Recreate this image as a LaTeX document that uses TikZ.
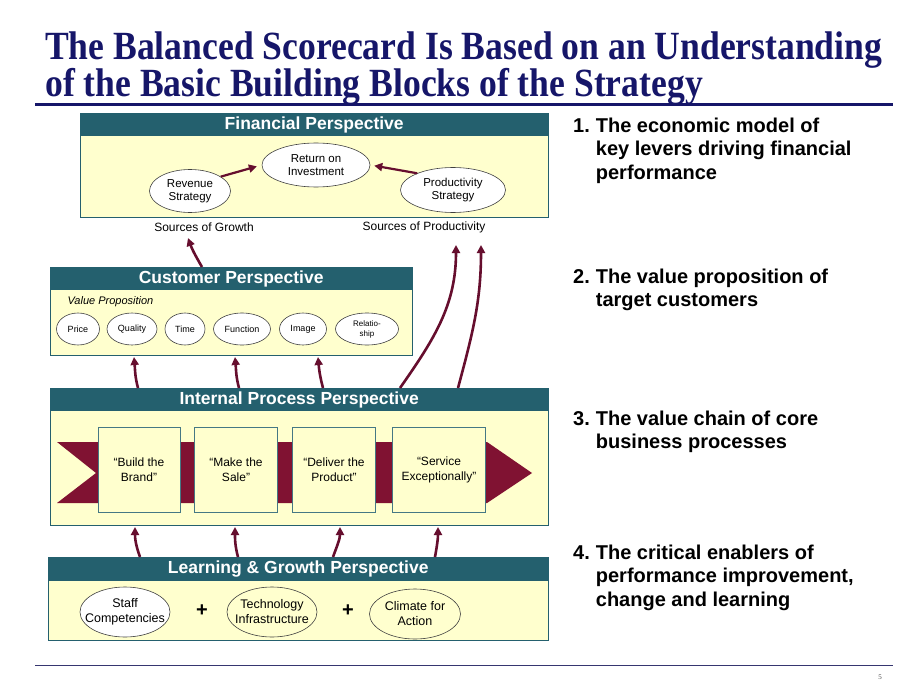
\documentclass[tikz,border=0pt]{standalone}
\usepackage{graphicx}
\usepackage{fontspec}
\setmainfont{Liberation Sans}
\newfontfamily\titlefont{Liberation Serif}
\usetikzlibrary{arrows.meta,shapes.geometric,positioning}

\definecolor{navy}{RGB}{22,22,105}
\definecolor{tealhead}{RGB}{36,96,110}
\definecolor{paleyel}{RGB}{255,255,206}
\definecolor{maroon}{RGB}{102,14,46}
\definecolor{chevron}{RGB}{128,18,50}

\tikzset{
  perbody/.style={draw=tealhead, line width=1.2pt, fill=paleyel, anchor=north west, inner sep=0pt},
  perhead/.style={fill=tealhead, text=white, anchor=north west, inner sep=0pt, minimum height=23pt,
    font=\bfseries\fontsize{17.5}{17.5}\selectfont},
  oval/.style={ellipse, draw=black!75, fill=white, line width=0.6pt, align=center, inner sep=-10pt,
    font=\fontsize{11.5}{13}\selectfont},
  stepbox/.style={draw=tealhead!85, fill=paleyel, line width=1pt, minimum height=85pt, align=center,
    font=\fontsize{12}{15}\selectfont},
  flow/.style={-{Triangle[length=8pt,width=8pt]}, draw=maroon, line width=2.6pt},
  srclabel/.style={font=\fontsize{12}{12}\selectfont},
  point/.style={font=\bfseries\fontsize{20}{23.5}\selectfont, anchor=north west, inner sep=0pt},
  titleline/.style={anchor=base west, inner sep=0pt, text=navy, font=\titlefont\bfseries\fontsize{40}{40}\selectfont}
}

\begin{document}
\begin{tikzpicture}[x=1pt, y=-1pt]
  \useasboundingbox[fill=white] (0,0) rectangle (920,690);

  % title
  \node[titleline] (title1) at (45,60) {\scalebox{0.89}[1]{The Balanced Scorecard Is Based on an Understanding}};
  \node[titleline] (title2) at (45,97) {\scalebox{0.89}[1]{of the Basic Building Blocks of the Strategy}};
  \draw[navy, line width=3pt] (35,105) -- (893,105);

  % financial perspective
  \node[perbody, minimum width=468pt, minimum height=104pt] (finbox) at (80,113) {};
  \node[perhead, minimum width=468pt] (finhead) at (80,113) {Financial Perspective};
  \node[oval, minimum width=108pt, minimum height=44pt] (roi) at (316,165) {Return on\\Investment};
  \node[oval, minimum width=81pt, minimum height=43pt] (revenue) at (190,191) {Revenue\\Strategy};
  \node[oval, minimum width=105pt, minimum height=45pt] (prodstrat) at (453,190) {Productivity\\Strategy};
  \draw[flow, line width=2.2pt, shorten >=5pt] (revenue.25) -- (roi.west);
  \draw[flow, line width=2.2pt, shorten >=4pt] (prodstrat.155) -- (roi.east);
  \node[srclabel] (growth) at (204,227) {Sources of Growth};
  \node[srclabel] (productivity) at (424,227) {Sources of Productivity};

  % customer perspective
  \node[perbody, minimum width=362pt, minimum height=88pt] (cusbox) at (50,267) {};
  \node[perhead, minimum width=362pt] (cushead) at (50,267) {Customer Perspective};
  \node[anchor=west, font=\itshape\fontsize{11}{11}\selectfont] (valprop) at (64,302) {Value Proposition};
  \foreach \name/\cx/\w/\txt in {price/78/43/Price, quality/132/50/Quality, time/185/40/Time,
      function/242/57/Function, image/303/47/Image}
    \node[oval, font=\fontsize{9}{9}\selectfont, minimum width=\w pt, minimum height=32pt] (\name) at (\cx,329) {\txt};
  \node[oval, font=\fontsize{8}{10}\selectfont, minimum width=63pt, minimum height=32pt] (relation) at (367,329) {Relatio-\\ship};

  % internal process perspective
  \node[perbody, minimum width=498pt, minimum height=137pt] (ipbox) at (50,388) {};
  \node[perhead, minimum width=498pt] (iphead) at (50,388) {Internal Process Perspective};
  \fill[chevron] (57,442) -- (487,442) -- (532,473) -- (487,503) -- (57,503) -- (96,473) -- cycle;
  \node[stepbox, minimum width=82pt] (brand) at (139,470) {“Build the\\Brand”};
  \node[stepbox, minimum width=83pt] (sale) at (236,470) {“Make the\\Sale”};
  \node[stepbox, minimum width=83pt] (deliver) at (334,470) {“Deliver the\\Product”};
  \node[stepbox, minimum width=93pt] (service) at (439,470) {“Service\\Exceptionally”};

  % learning & growth perspective
  \node[perbody, minimum width=500pt, minimum height=83pt] (lgbox) at (48,557) {};
  \node[perhead, minimum width=500pt, minimum height=24pt] (lghead) at (48,557) {Learning \& Growth Perspective};
  \node[oval, font=\fontsize{12.5}{15}\selectfont, minimum width=90pt, minimum height=50pt] (staff) at (125,612) {Staff\\Competencies};
  \node[oval, fill=paleyel, font=\fontsize{12.5}{15}\selectfont, minimum width=90pt, minimum height=50pt] (tech) at (272,612) {Technology\\Infrastructure};
  \node[oval, fill=paleyel, font=\fontsize{12.5}{15}\selectfont, minimum width=91pt, minimum height=50pt] (climate) at (415,614) {Climate for\\Action};
  \node[font=\bfseries\fontsize{20}{20}\selectfont] (plus1) at (202,611) {+};
  \node[font=\bfseries\fontsize{20}{20}\selectfont] (plus2) at (348,611) {+};

  % links between perspectives
  \foreach \i/\sx/\ex/\o in {1/140/135/110, 2/238/235/105, 3/333/340/70, 4/435/438/80} {
    \coordinate (lgs\i) at (\sx,557);
    \coordinate (ipe\i) at (\ex,527);
    \draw[flow] (lgs\i) to[out=\o, in=-90] (ipe\i);
  }
  \foreach \i/\sx/\ex/\o in {1/138/134/105, 2/239/235/105, 3/323/318/105} {
    \coordinate (ips\i) at (\sx,388);
    \coordinate (cue\i) at (\ex,357);
    \draw[flow] (ips\i) to[out=\o, in=-85] (cue\i);
  }
  \coordinate (ips4) at (400,388);
  \coordinate (ips5) at (458,388);
  \coordinate (fie1) at (456,245);
  \coordinate (fie2) at (481,245);
  \draw[flow] (ips4) to[out=55, in=-90] (fie1);
  \draw[flow] (ips5) to[out=75, in=-90] (fie2);
  \coordinate (cus0) at (202,267);
  \coordinate (gre0) at (188,238);
  \draw[flow] (cus0) to[out=120, in=-70] (gre0);

  % right-hand notes
  \node[point] (note1) at (573,115.5) {\begin{tabular}{@{}l@{\hspace{6pt}}l@{}}1. & The economic model of\\ & key levers driving financial\\ & performance\end{tabular}};
  \node[point] (note2) at (573,266.5) {\begin{tabular}{@{}l@{\hspace{6pt}}l@{}}2. & The value proposition of\\ & target customers\end{tabular}};
  \node[point] (note3) at (573,408.5) {\begin{tabular}{@{}l@{\hspace{6pt}}l@{}}3. & The value chain of core\\ & business processes\end{tabular}};
  \node[point] (note4) at (573,542.5) {\begin{tabular}{@{}l@{\hspace{6pt}}l@{}}4. & The critical enablers of\\ & performance improvement,\\ & change and learning\end{tabular}};

  % footer
  \draw[navy!70!gray, line width=0.8pt] (35,665) -- (893,665);
  \node[font=\titlefont\fontsize{7}{7}\selectfont, text=black!70] (pagenum) at (880,677) {5};
\end{tikzpicture}
\end{document}
